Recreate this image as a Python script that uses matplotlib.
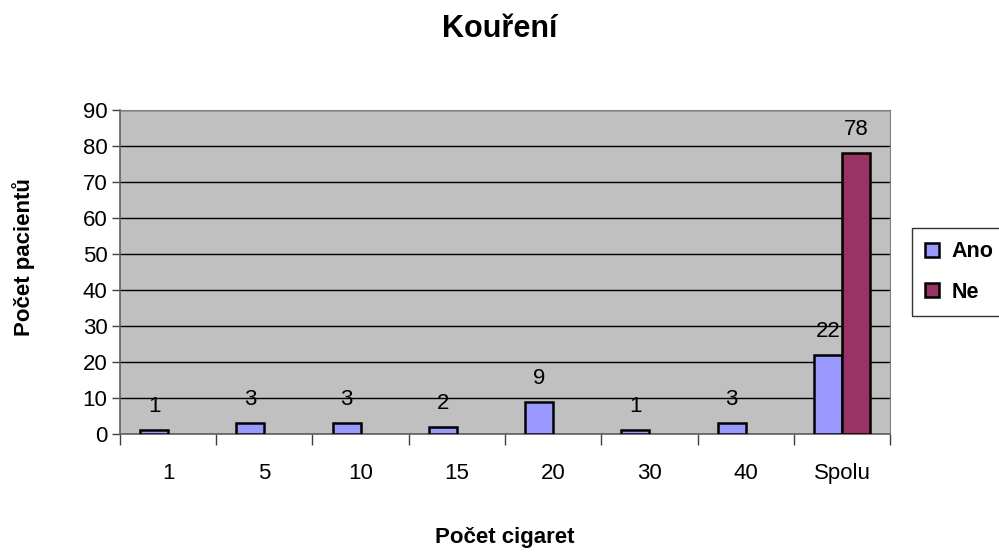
import numpy as np
import matplotlib.pyplot as plt

plt.rcParams['font.family'] = ['Liberation Sans', 'DejaVu Sans']

kategorie = ['1', '5', '10', '15', '20', '30', '40', 'Spolu']
ano = np.array([1, 3, 3, 2, 9, 1, 3, 22])
ne = np.array([0, 0, 0, 0, 0, 0, 0, 78])

fig = plt.figure(figsize=(9.99, 5.52), dpi=100)
ax = fig.add_axes([0.120, 0.2138, 0.771, 0.587])
ax.set_facecolor('#C0C0C0')

x = np.arange(len(kategorie))
w = 0.29
m = ne > 0
ax.bar(x - w / 2, ano, w, color='#9999FF', edgecolor='black', linewidth=1.8, label='Ano', zorder=3)
ax.bar(x[m] + w / 2, ne[m], w, color='#993366', edgecolor='black', linewidth=1.8, label='Ne', zorder=3)
for xi, v in zip(x, ano):
    ax.text(xi - w / 2, v + 5, str(v), ha='center', va='baseline', fontsize=16)
for xi, v in zip(x[m], ne[m]):
    ax.text(xi + w / 2, v + 5, str(v), ha='center', va='baseline', fontsize=16)

ax.set_xlim(-0.5, len(kategorie) - 0.5)
ax.set_ylim(0, 90)
ax.set_yticks(range(0, 91, 10))
ax.yaxis.grid(True, color='black', linewidth=1)
ax.set_axisbelow(True)
ax.set_xticks(x)
ax.set_xticklabels(kategorie)
ax.set_xticks(np.arange(-0.5, len(kategorie)), minor=True)
ax.tick_params(axis='x', which='major', length=0, labelsize=16, pad=21)
ax.tick_params(axis='x', which='minor', length=8, width=1, color='#404040')
ax.tick_params(axis='y', length=6, width=1, labelsize=16, pad=3, color='#404040')
for s in ['top', 'right']:
    ax.spines[s].set_color('#808080')
for s in ['left', 'bottom']:
    ax.spines[s].set_color('#606060')
    ax.spines[s].set_linewidth(1.2)

fig.text(0.505, 1 - 537 / 552, 'Počet cigaret', fontsize=16, fontweight='bold', ha='center', va='center')
fig.text(0.024, 1 - 257 / 552, 'Počet pacientů', fontsize=16, fontweight='bold', ha='center', va='center',
         rotation=90)
fig.suptitle('Kouření', fontsize=22, fontweight='bold', y=0.975)

leg = ax.legend(loc='center left', bbox_to_anchor=(1.0285, 0.5), frameon=True, fancybox=False,
                edgecolor='black', prop={'weight': 'bold', 'size': 15.5},
                handlelength=0.65, handleheight=0.65, handletextpad=0.6, labelspacing=0.9,
                borderpad=0.6, borderaxespad=0)
leg.get_frame().set_linewidth(1)
for h in leg.legend_handles:
    h.set_linewidth(1.8)

plt.savefig('out.png', dpi=100)
